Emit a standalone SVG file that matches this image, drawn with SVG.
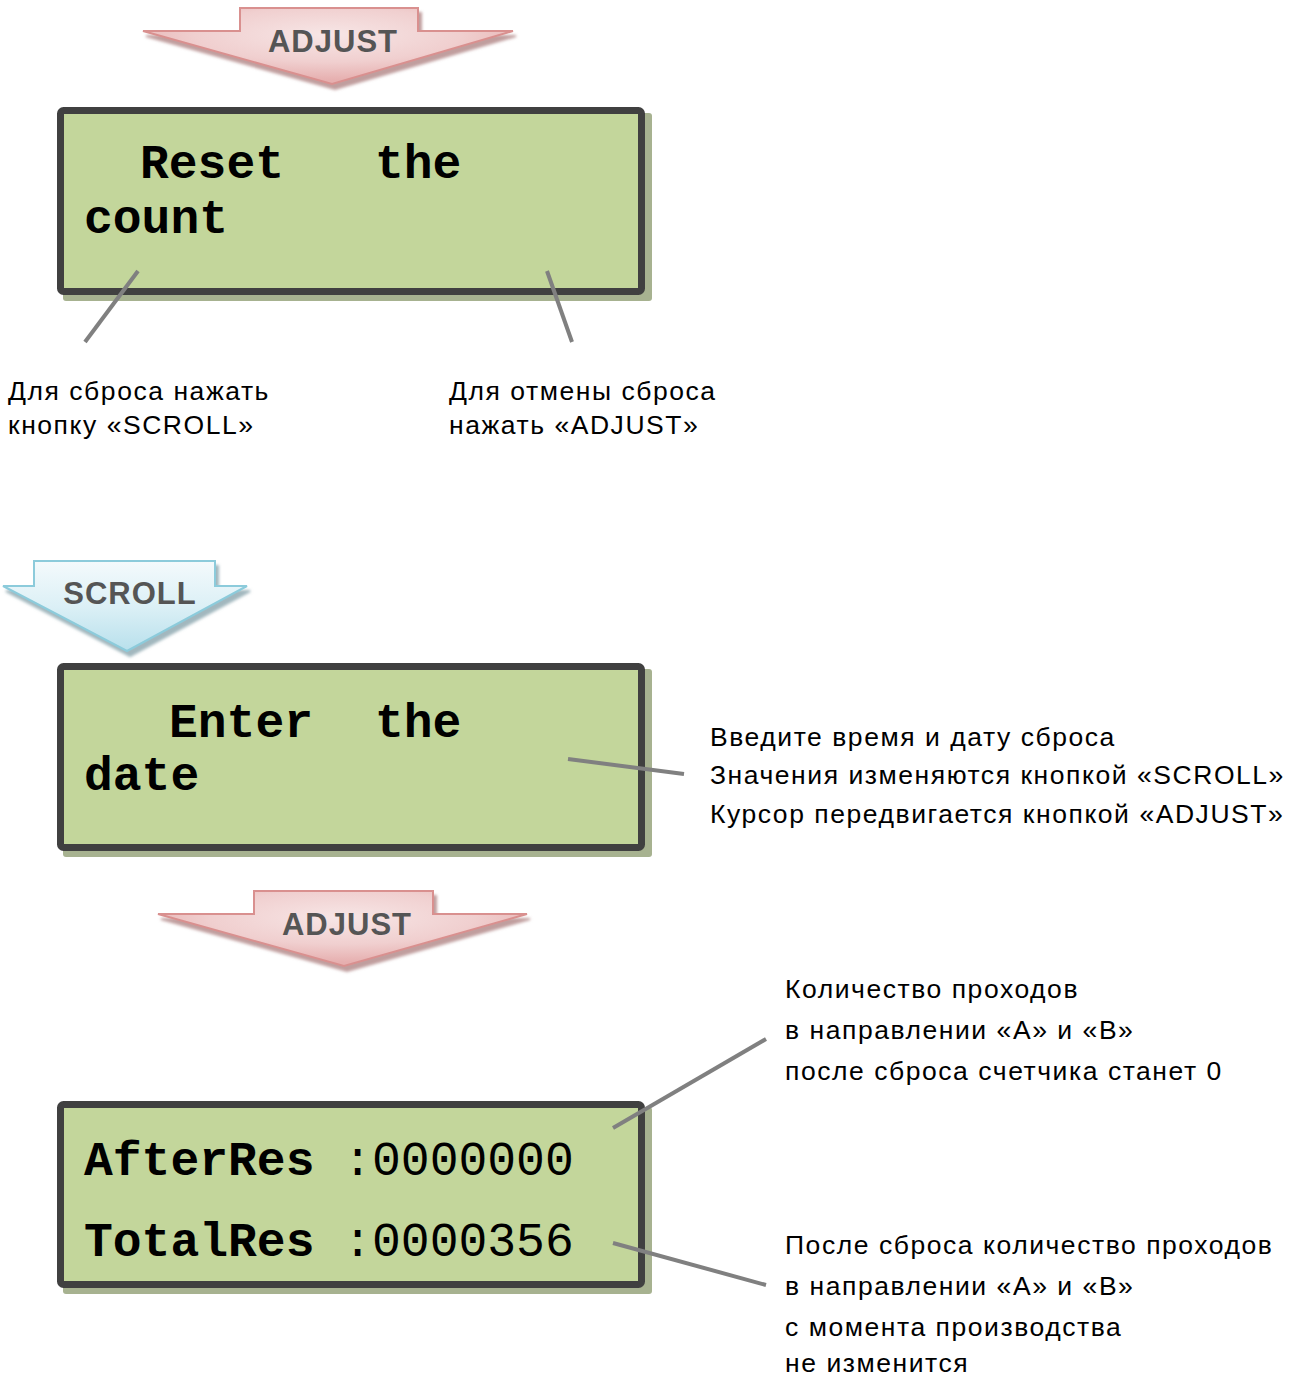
<svg xmlns="http://www.w3.org/2000/svg" width="1300" height="1378" viewBox="0 0 1300 1378">
<defs>
<radialGradient id="gPink" cx="0.5" cy="0.35" r="0.6">
<stop offset="0" stop-color="#f7e6e6"/>
<stop offset="0.6" stop-color="#f0cfcf"/>
<stop offset="1" stop-color="#e6afaf"/>
</radialGradient>
<linearGradient id="gBlue" x1="0" y1="0" x2="0" y2="1">
<stop offset="0" stop-color="#f4fafc"/>
<stop offset="0.5" stop-color="#dcf0f6"/>
<stop offset="1" stop-color="#b8e0ec"/>
</linearGradient>
<filter id="shPink" x="-10%" y="-10%" width="130%" height="140%">
<feDropShadow dx="3" dy="5" stdDeviation="1.5" flood-color="#b08585" flood-opacity="0.8"/>
</filter>
<filter id="shBlue" x="-10%" y="-10%" width="130%" height="140%">
<feDropShadow dx="3" dy="5" stdDeviation="1.5" flood-color="#8aa5ad" flood-opacity="0.8"/>
</filter>
<style>
.lcdShadow{fill:#a7b290;}
.lcd{fill:#c3d69b;stroke:#404040;stroke-width:7;}
.lcdTxt{font-family:"Liberation Mono","Courier New",monospace;font-weight:bold;font-size:48px;fill:#000;}
.reg{font-weight:normal;}
.arrowPink{fill:url(#gPink);stroke:#d9908f;stroke-width:2;filter:url(#shPink);}
.arrowBlue{fill:url(#gBlue);stroke:#8ccbdb;stroke-width:2;filter:url(#shBlue);}
.arrowTxt{font-family:"Liberation Sans",Arial,sans-serif;font-weight:bold;font-size:31px;letter-spacing:1px;fill:#555555;text-anchor:middle;}
.note{font-family:"Liberation Sans",Arial,sans-serif;font-size:26.5px;letter-spacing:1.55px;fill:#000;}
.callout{stroke:#808080;stroke-width:4;fill:none;}
</style>
</defs>

<g id="arrow-adjust-1">
<path class="arrowPink" d="M240,8 L418,8 L418,31 L513,31 L332,84 L143,31 L240,31 Z"/>
<text class="arrowTxt" x="333" y="52">ADJUST</text>
</g>

<g id="lcd-reset">
<rect class="lcdShadow" x="63" y="113" width="589" height="188" rx="3"/>
<rect class="lcd" x="60.5" y="110.5" width="581" height="181" rx="3"/>
<text class="lcdTxt" x="140" y="178">Reset</text>
<text class="lcdTxt" x="375" y="178">the</text>
<text class="lcdTxt" x="84" y="233">count</text>
</g>

<g id="note-scroll-reset">
<text class="note" x="8" y="400">Для сброса нажать</text>
<text class="note" x="8" y="434">кнопку «SCROLL»</text>
</g>

<g id="note-adjust-cancel">
<text class="note" x="449" y="400">Для отмены сброса</text>
<text class="note" x="449" y="434">нажать «ADJUST»</text>
</g>

<g id="arrow-scroll">
<path class="arrowBlue" d="M34,561 L215,561 L215,586 L247,586 L127,651 L3,586 L34,586 Z"/>
<text class="arrowTxt" x="130" y="604">SCROLL</text>
</g>

<g id="lcd-enter-date">
<rect class="lcdShadow" x="63" y="669" width="589" height="188" rx="3"/>
<rect class="lcd" x="60.5" y="666.5" width="581" height="181" rx="3"/>
<text class="lcdTxt" x="169" y="737">Enter</text>
<text class="lcdTxt" x="375" y="737">the</text>
<text class="lcdTxt" x="84" y="790">date</text>
</g>

<g id="note-enter-date">
<text class="note" x="710" y="746">Введите время и дату сброса</text>
<text class="note" x="710" y="784">Значения изменяются кнопкой «SCROLL»</text>
<text class="note" x="710" y="823">Курсор передвигается кнопкой «ADJUST»</text>
</g>

<g id="arrow-adjust-2">
<path class="arrowPink" d="M254,891 L433,891 L433,914 L527,914 L344,966 L158,914 L254,914 Z"/>
<text class="arrowTxt" x="347" y="935">ADJUST</text>
</g>

<g id="lcd-counters">
<rect class="lcdShadow" x="63" y="1107" width="589" height="187" rx="3"/>
<rect class="lcd" x="60.5" y="1104.5" width="581" height="180" rx="3"/>
<text class="lcdTxt" x="84" y="1175">AfterRes <tspan class="reg">:0000000</tspan></text>
<text class="lcdTxt" x="84" y="1256">TotalRes <tspan class="reg">:0000356</tspan></text>
</g>

<g id="note-after">
<text class="note" x="785" y="998">Количество проходов</text>
<text class="note" x="785" y="1039">в направлении «А» и «В»</text>
<text class="note" x="785" y="1080">после сброса счетчика станет 0</text>
</g>

<g id="note-total">
<text class="note" x="785" y="1254">После сброса количество проходов</text>
<text class="note" x="785" y="1295">в направлении «А» и «В»</text>
<text class="note" x="785" y="1336">с момента производства</text>
<text class="note" x="785" y="1372">не изменится</text>
</g>

<g id="connectors">
<line class="callout" x1="138" y1="271" x2="85" y2="342"/>
<line class="callout" x1="547" y1="271" x2="572" y2="342"/>
<line class="callout" x1="568" y1="759" x2="684" y2="774"/>
<line class="callout" x1="613" y1="1128" x2="766" y2="1039"/>
<line class="callout" x1="613" y1="1243" x2="766" y2="1285"/>
</g>
</svg>
